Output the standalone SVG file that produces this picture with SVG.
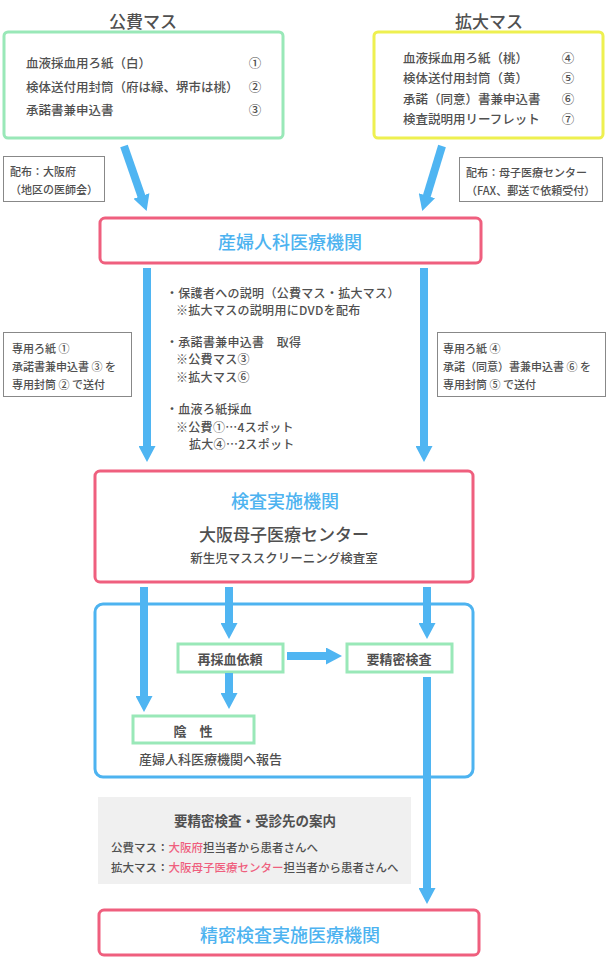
<svg xmlns="http://www.w3.org/2000/svg" width="610" height="965" viewBox="0 0 610 965">
<defs>
<marker id="ah" viewBox="0 0 16 17" refX="1" refY="8.5" markerWidth="16" markerHeight="17" orient="auto" markerUnits="userSpaceOnUse">
<path d="M0,0 L16,8.5 L0,17 z" fill="#4fb5f2"/>
</marker>
<style>
text{font-family:"Noto Sans CJK JP","Noto Sans",sans-serif;fill:#505050;dominant-baseline:central;font-weight:500}
.title{font-size:17px;text-anchor:middle}
.li{font-size:12.5px}
.num{font-size:12.5px;text-anchor:middle}
.note{font-size:11px}
.notebox{fill:#fff;stroke:#888;stroke-width:1}
.pink{fill:#fff;stroke:#ef5f7e;stroke-width:3}
.green{fill:#fff;stroke:#99e8b8;stroke-width:3}
.blue{fill:#4db3f0;font-size:18px;text-anchor:middle}
.mid{font-size:12px;letter-spacing:0.3px}
.lbl{font-size:13px;text-anchor:middle;font-weight:bold}
.red{fill:#ef5f7e}
.arr{stroke:#4fb5f2;stroke-width:8;fill:none;marker-end:url(#ah)}
</style>
</defs>
<rect width="610" height="965" fill="#fff"/>

<g id="kouhi">
<text class="title" x="143" y="20">公費マス</text>
<rect x="4" y="32" width="279" height="106" rx="4" fill="#fff" stroke="#99e8b8" stroke-width="3"/>
<text class="li" x="26" y="62">血液採血用ろ紙（白）</text>
<text class="li" x="26" y="86">検体送付用封筒（府は緑、堺市は桃）</text>
<text class="li" x="26" y="109">承諾書兼申込書</text>
<text class="num" x="255" y="62">①</text>
<text class="num" x="255" y="86">②</text>
<text class="num" x="255" y="109">③</text>
</g>

<g id="kakudai">
<text class="title" x="489" y="20">拡大マス</text>
<rect x="374" y="32" width="229" height="106" rx="4" fill="#fff" stroke="#eef050" stroke-width="3"/>
<text class="li" x="403" y="57">血液採血用ろ紙（桃）</text>
<text class="li" x="403" y="77">検体送付用封筒（黄）</text>
<text class="li" x="403" y="98">承諾（同意）書兼申込書</text>
<text class="li" x="403" y="118">検査説明用リーフレット</text>
<text class="num" x="568" y="57">④</text>
<text class="num" x="568" y="77">⑤</text>
<text class="num" x="568" y="98">⑥</text>
<text class="num" x="568" y="118">⑦</text>
</g>

<g id="note-kouhi">
<rect class="notebox" x="3.5" y="156.5" width="101" height="45"/>
<text class="note" x="10" y="171">配布：大阪府</text>
<text class="note" x="10" y="189">（地区の医師会）</text>
</g>

<g id="note-kakudai">
<rect class="notebox" x="459.5" y="157.5" width="143" height="44"/>
<text class="note" x="466" y="172">配布：母子医療センター</text>
<text class="note" x="466" y="190">（FAX、郵送で依頼受付）</text>
</g>

<g id="sanfujinka">
<rect class="pink" x="100" y="218" width="381" height="45" rx="5"/>
<text class="blue" x="290" y="241">産婦人科医療機関</text>
</g>

<g id="explain">
<text class="mid" x="166" y="292">・保護者への説明（公費マス・拡大マス）</text>
<text class="mid" x="176" y="309">※拡大マスの説明用にDVDを配布</text>
<text class="mid" x="166" y="341">・承諾書兼申込書　取得</text>
<text class="mid" x="176" y="358">※公費マス③</text>
<text class="mid" x="176" y="376">※拡大マス⑥</text>
<text class="mid" x="166" y="408">・血液ろ紙採血</text>
<text class="mid" x="176" y="426">※公費①…4スポット</text>
<text class="mid" x="189" y="443">拡大④…2スポット</text>
</g>

<g id="note-send-kouhi">
<rect class="notebox" x="3.5" y="332.5" width="128" height="64"/>
<text class="note" x="12" y="348">専用ろ紙 ①</text>
<text class="note" x="12" y="366">承諾書兼申込書 ③ を</text>
<text class="note" x="12" y="384">専用封筒 ② で送付</text>
</g>

<g id="note-send-kakudai">
<rect class="notebox" x="437.5" y="332.5" width="168" height="64"/>
<text class="note" x="443" y="348">専用ろ紙 ④</text>
<text class="note" x="443" y="366">承諾（同意）書兼申込書 ⑥ を</text>
<text class="note" x="443" y="384">専用封筒 ⑤ で送付</text>
</g>

<g id="kensa">
<rect class="pink" x="95" y="471" width="378" height="111" rx="5"/>
<text class="blue" x="285" y="500">検査実施機関</text>
<text x="284" y="533" style="font-size:17px;text-anchor:middle">大阪母子医療センター</text>
<text x="284" y="557" style="font-size:12.5px;text-anchor:middle">新生児マススクリーニング検査室</text>
</g>

<g id="result-area">
<rect x="95" y="604" width="378" height="173" rx="8" fill="none" stroke="#4db3f0" stroke-width="3"/>
<text x="139" y="758" style="font-size:13px">産婦人科医療機関へ報告</text>
</g>

<g id="saisaiketsu">
<rect class="green" x="178" y="644" width="105" height="28"/>
<text class="lbl" x="230" y="658">再採血依頼</text>
</g>

<g id="youseimitsu">
<rect class="green" x="347" y="644" width="105" height="28"/>
<text class="lbl" x="399" y="658">要精密検査</text>
</g>

<g id="insei">
<rect class="green" x="133" y="716" width="121" height="27"/>
<text class="lbl" x="193" y="730">陰　性</text>
</g>

<g id="annai">
<rect x="98" y="797" width="313" height="87" fill="#f0f0f0"/>
<text x="255" y="820" style="font-size:13.5px;text-anchor:middle;font-weight:bold">要精密検査・受診先の案内</text>
<text x="111" y="847" style="font-size:11.5px">公費マス：<tspan class="red">大阪府</tspan>担当者から患者さんへ</text>
<text x="111" y="867" style="font-size:11.5px">拡大マス：<tspan class="red">大阪母子医療センター</tspan>担当者から患者さんへ</text>
</g>

<g id="seimitsu">
<rect class="pink" x="99" y="910" width="380" height="45" rx="5"/>
<text class="blue" x="290" y="934">精密検査実施医療機関</text>
</g>

<g id="connectors">
<line class="arr" x1="124" y1="146" x2="141.7" y2="196.9"/>
<line class="arr" x1="442" y1="146" x2="426.6" y2="196.7"/>
<line class="arr" x1="147" y1="268" x2="147" y2="447"/>
<line class="arr" x1="424" y1="268" x2="424" y2="447"/>
<line class="arr" x1="144" y1="587" x2="144" y2="697"/>
<line class="arr" x1="229" y1="587" x2="229" y2="624"/>
<line class="arr" x1="427" y1="587" x2="427" y2="624"/>
<line class="arr" x1="287" y1="656" x2="327" y2="656"/>
<line class="arr" x1="229" y1="673" x2="229" y2="694"/>
<line class="arr" x1="427" y1="677" x2="427" y2="889"/>
</g>
</svg>
